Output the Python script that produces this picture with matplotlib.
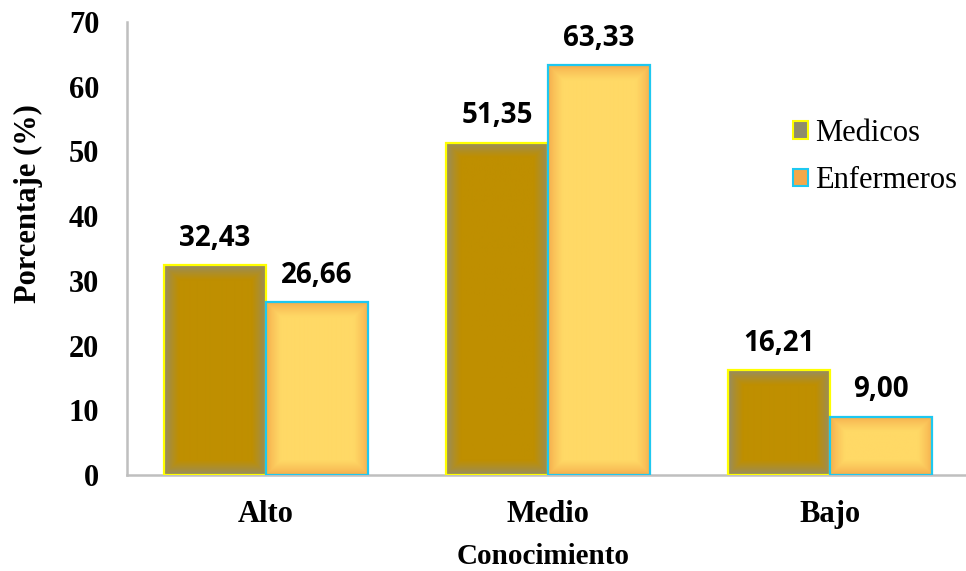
import numpy as np
import matplotlib
matplotlib.use("Agg")
import matplotlib.pyplot as plt
from matplotlib.colors import to_rgb
from matplotlib.patches import Patch

# ======================
# Data
# ======================
categorias = ["Alto", "Medio", "Bajo"]
series = ["Medicos", "Enfermeros"]
medicos = [32.43, 51.35, 16.21]
enfermeros = [26.66, 63.33, 9.00]
yticks = [0, 10, 20, 30, 40, 50, 60, 70]

# bar styles: (edge of gradient, center of gradient, outline)
estilos = {
    "Medicos": ("#8F8C74", "#BF8F00", "#FFFF00"),
    "Enfermeros": ("#F4A84A", "#FFD966", "#1EC8F0"),
}

W, H = 966, 571
fig = plt.figure(figsize=(W / 100, H / 100), dpi=100)
ax = fig.add_axes([127 / W, 1 - 475 / H, (W - 127) / W + 0.01, (475 - 22) / H])

x = np.arange(len(categorias))
width = 0.362
xlim = (-0.493, 2.482 + 0.01 * W / 282)
ax.set_xlim(*xlim)
ax.set_ylim(0, 70)


def gradient_bar(x0, x1, h, c_edge, c_center, ramp=15):
    # rectangular path gradient: edge colour -> centre colour
    p0 = ax.transData.transform((x0, 0))
    p1 = ax.transData.transform((x1, h))
    nx = max(int(round(p1[0] - p0[0])), 2)
    ny = max(int(round(p1[1] - p0[1])), 2)
    ix = np.arange(nx) + 0.5
    iy = np.arange(ny) + 0.5
    dx = np.minimum(ix, nx - ix)
    dy = np.minimum(iy, ny - iy)
    d = np.minimum(dy[:, None], dx[None, :])
    t = np.clip(d / ramp, 0, 1) ** 0.7
    ce = np.array(to_rgb(c_edge))
    cc = np.array(to_rgb(c_center))
    img = ce[None, None, :] * (1 - t[..., None]) + cc[None, None, :] * t[..., None]
    ax.imshow(img, extent=(x0, x1, 0, h), aspect="auto", origin="lower",
              interpolation="bilinear", zorder=2)


for offs, nombre, vals in [(-width / 2, "Medicos", medicos),
                           (width / 2, "Enfermeros", enfermeros)]:
    c_edge, c_center, c_line = estilos[nombre]
    for xi, v in zip(x + offs, vals):
        gradient_bar(xi - width / 2, xi + width / 2, v, c_edge, c_center)
    ax.bar(x + offs, vals, width, facecolor="none", edgecolor=c_line,
           linewidth=1.6, zorder=3)
    for xi, v in zip(x + offs, vals):
        ax.annotate(f"{v:.2f}".replace(".", ","), (xi, v), xytext=(0, 9),
                    textcoords="offset points", ha="center", va="bottom",
                    fontsize=20, fontweight="bold", family="Open Sans")

ax.set_xlim(*xlim)
ax.set_ylim(0, 70)

ax.set_xticks(x)
ax.set_xticklabels(categorias, fontsize=22, fontweight="bold",
                   family="Liberation Serif")
ax.set_yticks(yticks)
ax.set_yticklabels([str(v) for v in yticks], fontsize=22, fontweight="bold",
                   family="Liberation Serif")
ax.tick_params(axis="both", length=0)
ax.tick_params(axis="y", pad=20)
ax.tick_params(axis="x", pad=18)

for s in ["top", "right"]:
    ax.spines[s].set_visible(False)
for s in ["left", "bottom"]:
    ax.spines[s].set_color("#BFBFBF")
    ax.spines[s].set_linewidth(1.8)

fig.text(28 / W, 1 - 204 / H, "Porcentaje (%)", rotation=90, ha="center",
         va="center", fontsize=22, fontweight="bold", family="Liberation Serif")
fig.text(543 / W, 1 - 557 / H, "Conocimiento", ha="center", va="center",
         fontsize=21, fontweight="bold", family="Liberation Serif")

handles = [Patch(facecolor="#8F8C6C", edgecolor="#FFFF00", linewidth=1.5),
           Patch(facecolor="#F4A84A", edgecolor="#1EC8F0", linewidth=1.5)]
fig.legend(handles, series, loc="upper left",
           bbox_to_anchor=(793 / W, 1 - 119 / H), frameon=False,
           prop={"family": "Liberation Serif", "size": 22},
           handlelength=0.5, handleheight=0.5, handletextpad=0.22,
           labelspacing=0.6, borderpad=0, borderaxespad=0)

fig.savefig("out.png", dpi=100)
